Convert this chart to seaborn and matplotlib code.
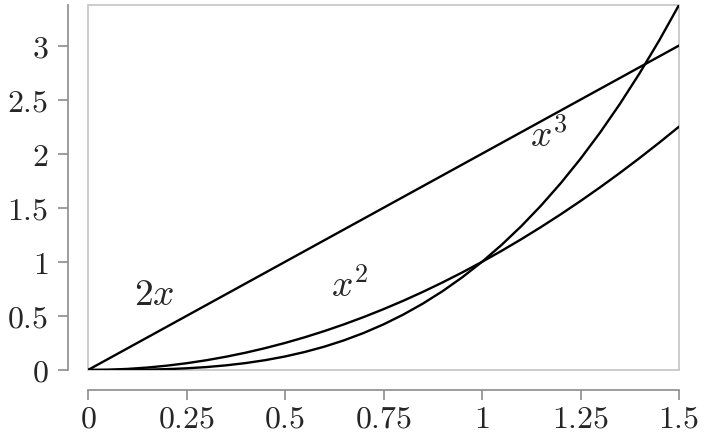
import numpy as np
import pandas as pd
import matplotlib
matplotlib.use("Agg")
import matplotlib.pyplot as plt
from matplotlib.patches import Rectangle
import seaborn as sns

x_vals = [0.00, 0.05, 0.10, 0.15, 0.20, 0.25, 0.30, 0.35, 0.40, 0.45,
          0.50, 0.55, 0.60, 0.65, 0.70, 0.75, 0.80, 0.85, 0.90, 0.95,
          1.00, 1.05, 1.10, 1.15, 1.20, 1.25, 1.30, 1.35, 1.40, 1.45, 1.50]
y_2x = [0.0, 0.1, 0.2, 0.3, 0.4, 0.5, 0.6, 0.7, 0.8, 0.9,
        1.0, 1.1, 1.2, 1.3, 1.4, 1.5, 1.6, 1.7, 1.8, 1.9,
        2.0, 2.1, 2.2, 2.3, 2.4, 2.5, 2.6, 2.7, 2.8, 2.9, 3.0]
y_sq = [0.0, 0.0025, 0.01, 0.0225, 0.04, 0.0625, 0.09, 0.1225, 0.16, 0.2025,
        0.25, 0.3025, 0.36, 0.4225, 0.49, 0.5625, 0.64, 0.7225, 0.81, 0.9025,
        1.0, 1.1025, 1.21, 1.3225, 1.44, 1.5625, 1.69, 1.8225, 1.96, 2.1025, 2.25]
y_cube = [0.0, 0.000125, 0.001, 0.003375, 0.008, 0.015625, 0.027, 0.042875, 0.064, 0.091125,
          0.125, 0.166375, 0.216, 0.274625, 0.343, 0.421875, 0.512, 0.614125, 0.729, 0.857375,
          1.0, 1.157625, 1.331, 1.520875, 1.728, 1.953125, 2.197, 2.460375, 2.744, 3.048625, 3.375]

x_ticks = [0, 0.25, 0.5, 0.75, 1, 1.25, 1.5]
x_labels = ['0', '0.25', '0.5', '0.75', '1', '1.25', '1.5']
y_ticks = [0, 0.5, 1, 1.5, 2, 2.5, 3]
y_labels = ['0', '0.5', '1', '1.5', '2', '2.5', '3']

# curve labels: text, x, y (baseline)
curve_labels = [('$2x$', 0.1675, 0.60), ('$x^2$', 0.665, 0.676), ('$x^3$', 1.17, 2.065)]

sns.set_style('white')
plt.rcParams['mathtext.fontset'] = 'cm'

df = pd.DataFrame({'x': x_vals * 3,
                   'y': y_2x + y_sq + y_cube,
                   'f': ['2x'] * len(x_vals) + ['x2'] * len(x_vals) + ['x3'] * len(x_vals)})

fig = plt.figure(figsize=(7.04, 4.37), dpi=100)
ax = fig.add_axes([88 / 704, 67 / 437, 591 / 704, 365 / 437])

sns.lineplot(data=df, x='x', y='y', units='f', estimator=None,
             color='black', linewidth=1.7, ax=ax, legend=False)

ax.set_xlim(0, 1.5)
ax.set_ylim(0, 3.375)

# light frame around the plot area
ax.add_patch(Rectangle((0, 0), 1, 1, transform=ax.transAxes, fill=False,
                       edgecolor='#c4c4c4', linewidth=1.2, clip_on=False, zorder=0))

# offset axis lines
for side in ['top', 'right']:
    ax.spines[side].set_visible(False)
for side in ['left', 'bottom']:
    ax.spines[side].set_position(('outward', 14.4))
    ax.spines[side].set_color('#8c8c8c')
    ax.spines[side].set_linewidth(1.2)

ax.set_xticks(x_ticks, labels=[f'${t}$' for t in x_labels])
ax.set_yticks(y_ticks, labels=[f'${t}$' for t in y_labels])
ax.tick_params(axis='both', direction='out', length=7, width=1.2, color='#8c8c8c',
               labelsize=23, left=True, bottom=True)
ax.tick_params(axis='y', pad=7)
ax.tick_params(axis='x', pad=3)
ax.set_xlabel('')
ax.set_ylabel('')

for txt, tx, ty in curve_labels:
    ax.text(tx, ty, txt, fontsize=27, ha='center', va='baseline')

fig.savefig('out.png', dpi=100)
